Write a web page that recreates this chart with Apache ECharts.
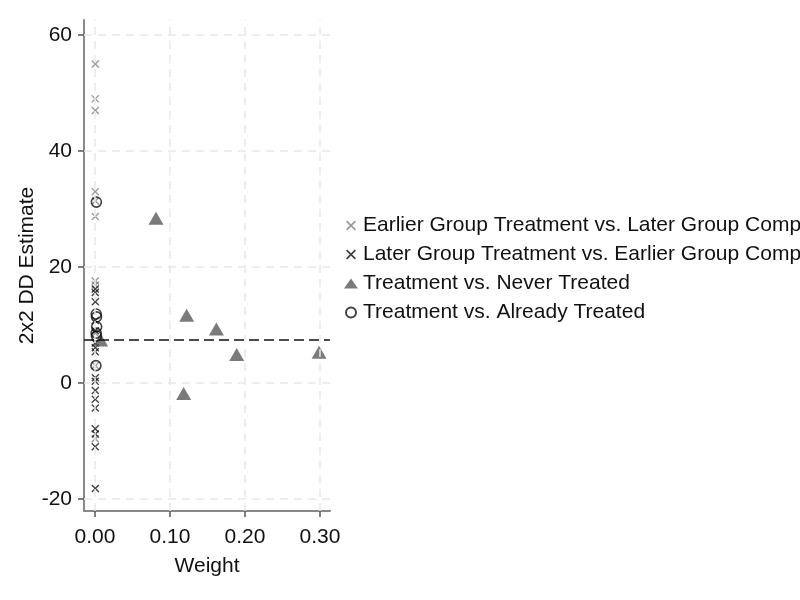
<!DOCTYPE html>
<html><head><meta charset="utf-8">
<script src="https://cdn.jsdelivr.net/npm/echarts@6/dist/echarts.min.js"></script>
<style>html,body{margin:0;padding:0;background:#fff}#c{width:800px;height:600px}</style>
</head><body><div id="c"></div>
<script>
const seriesNames = [
  'Earlier Group Treatment vs. Later Group Comparison',
  'Later Group Treatment vs. Earlier Group Comparison',
  'Treatment vs. Never Treated',
  'Treatment vs. Already Treated'
];
const earlierVsLater = [[0.0004,55.0],[0.0003,49.0],[0.0004,47.0],[0.0003,33.0],[0.0005,31.4],[0.0003,28.7],[0.0004,17.6],[0.0003,16.9],[0.0004,8.6],[0.0005,3.0],[0.0003,-9.6]];
const laterVsEarlier = [[0.0003,16.2],[0.0003,15.6],[0.0004,14.0],[0.0003,10.8],[0.0004,9.0],[0.0003,6.9],[0.0004,6.1],[0.0003,5.4],[0.0004,0.9],[0.0003,0.3],[0.0004,-1.3],[0.0003,-2.8],[0.0004,-4.3],[0.0003,-7.9],[0.0004,-8.8],[0.0003,-11.0],[0.0004,-18.2]];
const neverTreated = [[0.0075,7.4],[0.0813,28.4],[0.1222,11.7],[0.1618,9.3],[0.1889,4.9],[0.2987,5.3],[0.1182,-1.8]];
const alreadyTreated = [[0.0018,31.2],[0.0016,11.9],[0.0020,11.4],[0.0022,9.7],[0.0015,8.6],[0.0019,8.1],[0.0012,3.0]];
const overallEstimate = 7.5;
const xTicks = [0, 0.1, 0.2, 0.3];
const yTicks = [-20, 0, 20, 40, 60];

const crossPath = 'path://M0,1.2L1.2,0L5,3.8L8.8,0L10,1.2L6.2,5L10,8.8L8.8,10L5,6.2L1.2,10L0,8.8L3.8,5Z';
const gridColor = '#e8e8e8';
const font = 'Liberation Sans, Arial, sans-serif';

const chart = echarts.init(document.getElementById('c'));
chart.setOption({
  animation: false,
  backgroundColor: '#fff',
  textStyle: {fontFamily: font},
  grid: {left: 84, right: 470, top: 20, bottom: 89},
  legend: {
    orient: 'vertical', left: 339, top: 210, itemGap: 8, itemWidth: 14, itemHeight: 10,
    textStyle: {fontSize: 21, lineHeight: 21, color: '#111', fontFamily: font},
    data: seriesNames.map(n => ({name: n}))
  },
  xAxis: {
    type: 'value', min: -0.0147, max: 0.3133,
    name: 'Weight', nameLocation: 'middle', nameGap: 45,
    nameTextStyle: {fontSize: 21, color: '#111'},
    axisLine: {onZero: false, lineStyle: {color: '#888', width: 2}},
    axisTick: {customValues: xTicks, length: 6, lineStyle: {color: '#555', width: 1.5}},
    axisLabel: {customValues: xTicks, fontSize: 21, color: '#111', margin: 16, formatter: v => v.toFixed(2)},
    splitLine: {show: false}
  },
  yAxis: {
    type: 'value', min: -22.07, max: 62.6,
    name: '2x2 DD Estimate', nameLocation: 'middle', nameGap: 45,
    nameTextStyle: {fontSize: 21, color: '#111'},
    axisLine: {onZero: false, lineStyle: {color: '#888', width: 2}},
    axisTick: {customValues: yTicks, length: 6, lineStyle: {color: '#555', width: 1.5}},
    axisLabel: {customValues: yTicks, fontSize: 21, color: '#111', margin: 12},
    splitLine: {show: false}
  },
  series: [
    {
      name: 'grid', type: 'scatter', data: [], silent: true,
      markLine: {
        silent: true, symbol: 'none', label: {show: false}, animation: false,
        lineStyle: {color: gridColor, type: [8, 6], width: 1.5},
        data: xTicks.map(v => ({xAxis: v})).concat(yTicks.map(v => ({yAxis: v})))
      }
    },
    {
      name: seriesNames[0], type: 'scatter', data: earlierVsLater, symbol: crossPath, symbolSize: 8,
      itemStyle: {color: '#808080'}
    },
    {
      name: seriesNames[1], type: 'scatter', data: laterVsEarlier, symbol: crossPath, symbolSize: 8,
      itemStyle: {color: '#111'}
    },
    {
      name: seriesNames[2], type: 'scatter', data: neverTreated, symbol: 'triangle', symbolSize: [15, 13],
      itemStyle: {color: '#595959'},
      markLine: {
        silent: true, symbol: 'none', label: {show: false}, animation: false,
        lineStyle: {color: '#111', type: [10, 5], width: 1.6},
        data: [{yAxis: overallEstimate}]
      }
    },
    {
      name: seriesNames[3], type: 'scatter', data: alreadyTreated, symbol: 'circle', symbolSize: 10,
      itemStyle: {color: 'rgba(0,0,0,0)', borderColor: '#111', borderWidth: 1.6}
    }
  ]
});
</script></body></html>
